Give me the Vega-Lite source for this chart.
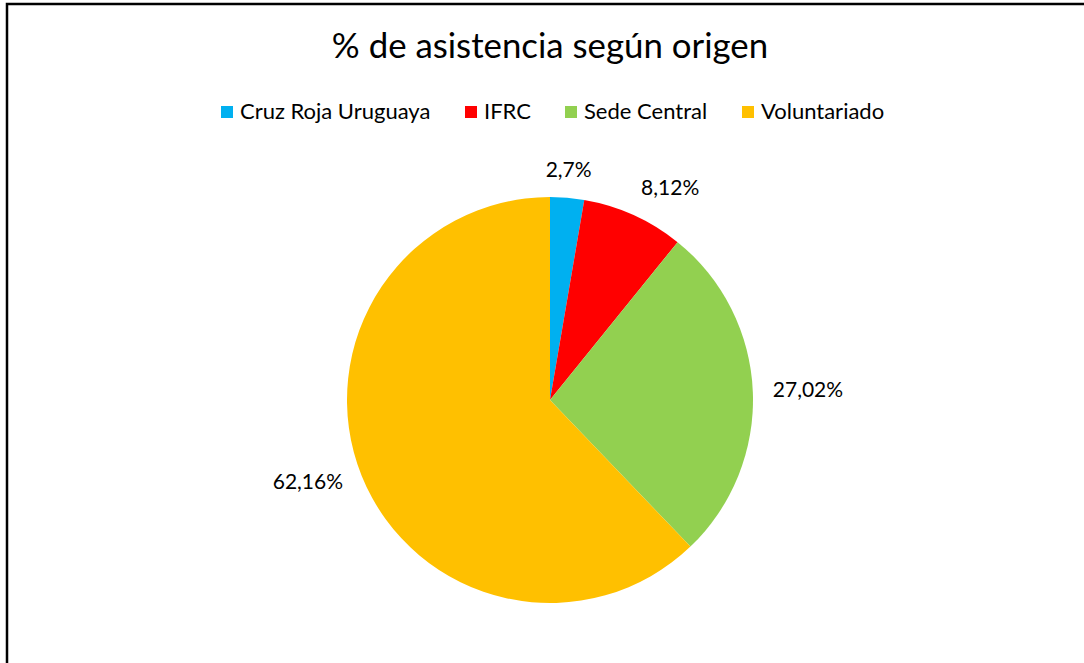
{
  "$schema": "https://vega.github.io/schema/vega-lite/v6.json",
  "autosize": "none",
  "width": 1086,
  "height": 792,
  "padding": {"left": 7, "top": 4, "right": 0, "bottom": 0},
  "background": "white",
  "view": {"stroke": "black", "strokeWidth": 2.5},
  "config": {
    "view": {"stroke": "black", "strokeWidth": 2.5},
    "style": {"cell": {"stroke": "black", "strokeWidth": 2.5}},
    "font": "Lato"
  },
  "title": {
    "text": "% de asistencia según origen",
    "fontSize": 34.8,
    "fontWeight": "normal",
    "color": "black",
    "anchor": "middle",
    "offset": -62
  },
  "data": {
    "values": [
      {"origen": "Cruz Roja Uruguaya", "valor": 2.7, "etiqueta": "2,7%"},
      {"origen": "IFRC", "valor": 8.12, "etiqueta": "8,12%"},
      {"origen": "Sede Central", "valor": 27.02, "etiqueta": "27,02%"},
      {"origen": "Voluntariado", "valor": 62.16, "etiqueta": "62,16%"}
    ]
  },
  "encoding": {
    "theta": {"field": "valor", "type": "quantitative", "stack": true},
    "order": {"field": "origen", "type": "nominal", "sort": "ascending"}
  },
  "layer": [
    {
      "mark": {"type": "arc", "outerRadius": 203},
      "encoding": {
        "color": {
          "field": "origen",
          "type": "nominal",
          "scale": {
            "domain": ["Cruz Roja Uruguaya", "IFRC", "Sede Central", "Voluntariado"],
            "range": ["#00B0F0", "#FF0000", "#92D050", "#FFC000"]
          },
          "legend": {
            "orient": "none",
            "legendX": 209,
            "legendY": 97,
            "direction": "horizontal",
            "title": null,
            "symbolType": "square",
            "symbolSize": 144,
            "symbolStrokeWidth": 0,
            "labelFontSize": 22,
            "labelColor": "black",
            "labelOffset": 2,
            "labelLimit": 0,
            "columnPadding": 29,
            "padding": 0
          }
        }
      }
    },
    {
      "mark": {"type": "text", "radius": 220, "align": "center", "baseline": "bottom", "fontSize": 21, "color": "black"},
      "encoding": {
        "text": {"condition": {"test": "datum.origen == 'Cruz Roja Uruguaya'", "field": "etiqueta"}, "value": ""}
      }
    },
    {
      "mark": {"type": "text", "radius": 221, "align": "left", "baseline": "bottom", "fontSize": 21, "color": "black"},
      "encoding": {
        "text": {"condition": {"test": "datum.origen == 'IFRC'", "field": "etiqueta"}, "value": ""}
      }
    },
    {
      "mark": {"type": "text", "radius": 223, "align": "left", "baseline": "middle", "fontSize": 21, "color": "black"},
      "encoding": {
        "text": {"condition": {"test": "datum.origen == 'Sede Central'", "field": "etiqueta"}, "value": ""}
      }
    },
    {
      "mark": {"type": "text", "radius": 223, "align": "right", "baseline": "middle", "fontSize": 21, "color": "black"},
      "encoding": {
        "text": {"condition": {"test": "datum.origen == 'Voluntariado'", "field": "etiqueta"}, "value": ""}
      }
    }
  ]
}
